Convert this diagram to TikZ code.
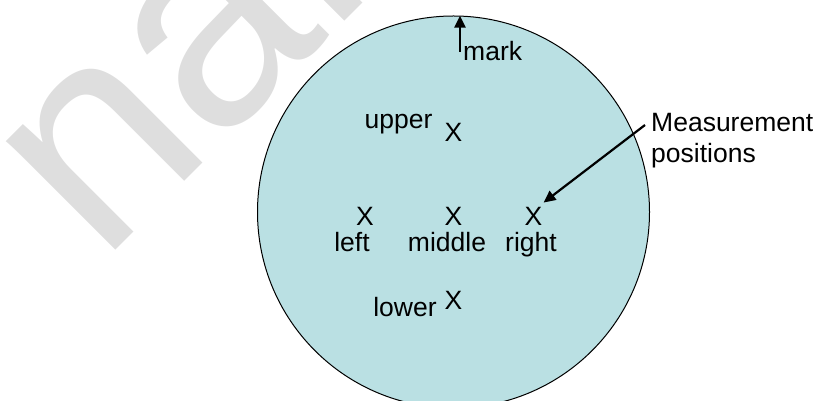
\documentclass[tikz,border=0pt]{standalone}
\usepackage{fontspec}
\setmainfont{Liberation Sans}
\usepackage{xcolor}
\usetikzlibrary{arrows.meta,positioning,calc}
\definecolor{wafercolor}{RGB}{186,224,227}
\definecolor{wmcolor}{RGB}{222,222,222}

\begin{document}
\begin{tikzpicture}[
    x=1pt, y=1pt,
    txt/.style={inner sep=0pt, font=\fontsize{26.5}{31}\selectfont},
    posmark/.style={txt, anchor=base},
    arrow/.style={-{Triangle[length=12pt, width=11pt]}, line width=2.2pt}
]
\useasboundingbox (0,0) rectangle (821,401);
\clip (0,0) rectangle (821,401);

% Watermark
\node[inner sep=0pt, anchor=base west, rotate=45, text=wmcolor, font=\fontsize{292}{300}\selectfont] (wm) at (101,136) {nan};

% Wafer
\node[circle, draw, line width=1pt, fill=wafercolor, minimum size=392pt, inner sep=0pt] (wafer) at (453.5,189) {};

% Measurement positions
\node[posmark] (xupper) at (453.5,259) {X};
\node[posmark] (xleft) at (365,175) {X};
\node[posmark] (xmiddle) at (453.5,175) {X};
\node[posmark] (xright) at (533.5,175) {X};
\node[posmark] (xlower) at (453.5,91) {X};

% Labels
\node[txt, anchor=base] (lupper) at (398.5,272) {upper};
\node[txt, anchor=base] (lleft) at (352,149) {left};
\node[txt, anchor=base] (lmiddle) at (447,149) {middle};
\node[txt, anchor=base] (lright) at (531,149) {right};
\node[txt, anchor=base] (llower) at (405,84) {lower};
\node[txt, anchor=base west] (mark) at (463,340) {mark};
\node[txt, anchor=north west, align=left] (meas) at (651,288) {Measurement\\positions};

% Arrows
\coordinate (marktail) at ($(mark.base west)+(-3,9)$);
\draw[arrow] (marktail) -- (marktail |- wafer.88);
\coordinate (meastail) at ($(meas.north west)+(-6,-12)$);
\draw[arrow] (meastail) -- ($(xright.north east)+(1,5)$);

\end{tikzpicture}
\end{document}
